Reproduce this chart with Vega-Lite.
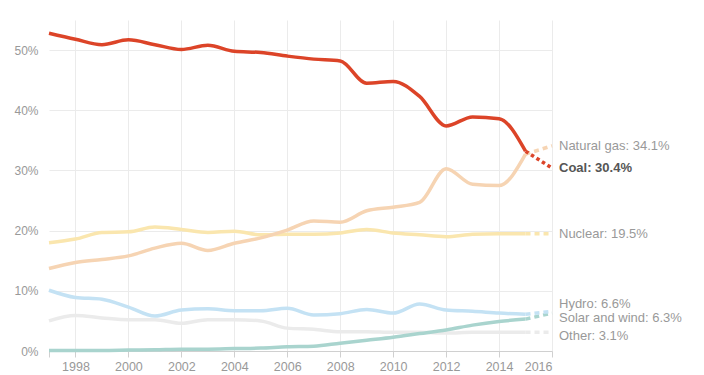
{
  "$schema": "https://vega.github.io/schema/vega-lite/v6.json",
  "width": 503,
  "height": 331,
  "autosize": {"type": "none"},
  "padding": {"left": 49, "top": 20, "right": 152, "bottom": 24},
  "background": "white",
  "config": {
    "view": {"stroke": null},
    "font": "Liberation Sans",
    "axis": {"labelFont": "Liberation Sans", "labelFontSize": 12, "labelColor": "#999", "gridColor": "#ebebeb", "gridWidth": 1}
  },
  "data": {
    "values": [
      {"source": "Other", "year": 1997, "value": 5.0},
      {"source": "Other", "year": 1998, "value": 5.9},
      {"source": "Other", "year": 1999, "value": 5.5},
      {"source": "Other", "year": 2000, "value": 5.2},
      {"source": "Other", "year": 2001, "value": 5.2},
      {"source": "Other", "year": 2002, "value": 4.6},
      {"source": "Other", "year": 2003, "value": 5.2},
      {"source": "Other", "year": 2004, "value": 5.2},
      {"source": "Other", "year": 2005, "value": 5.0},
      {"source": "Other", "year": 2006, "value": 3.8},
      {"source": "Other", "year": 2007, "value": 3.6},
      {"source": "Other", "year": 2008, "value": 3.2},
      {"source": "Other", "year": 2009, "value": 3.2},
      {"source": "Other", "year": 2010, "value": 3.1},
      {"source": "Other", "year": 2011, "value": 3.1},
      {"source": "Other", "year": 2012, "value": 3.0},
      {"source": "Other", "year": 2013, "value": 3.1},
      {"source": "Other", "year": 2014, "value": 3.1},
      {"source": "Other", "year": 2015, "value": 3.1},
      {"source": "Other", "year": 2016, "value": 3.1},
      {"source": "Solar and wind", "year": 1997, "value": 0.1},
      {"source": "Solar and wind", "year": 1998, "value": 0.1},
      {"source": "Solar and wind", "year": 1999, "value": 0.1},
      {"source": "Solar and wind", "year": 2000, "value": 0.15},
      {"source": "Solar and wind", "year": 2001, "value": 0.2},
      {"source": "Solar and wind", "year": 2002, "value": 0.3},
      {"source": "Solar and wind", "year": 2003, "value": 0.3},
      {"source": "Solar and wind", "year": 2004, "value": 0.4},
      {"source": "Solar and wind", "year": 2005, "value": 0.5},
      {"source": "Solar and wind", "year": 2006, "value": 0.7},
      {"source": "Solar and wind", "year": 2007, "value": 0.8},
      {"source": "Solar and wind", "year": 2008, "value": 1.3},
      {"source": "Solar and wind", "year": 2009, "value": 1.8},
      {"source": "Solar and wind", "year": 2010, "value": 2.3},
      {"source": "Solar and wind", "year": 2011, "value": 2.9},
      {"source": "Solar and wind", "year": 2012, "value": 3.5},
      {"source": "Solar and wind", "year": 2013, "value": 4.3},
      {"source": "Solar and wind", "year": 2014, "value": 4.9},
      {"source": "Solar and wind", "year": 2015, "value": 5.3},
      {"source": "Solar and wind", "year": 2016, "value": 6.3},
      {"source": "Hydro", "year": 1997, "value": 10.1},
      {"source": "Hydro", "year": 1998, "value": 8.9},
      {"source": "Hydro", "year": 1999, "value": 8.6},
      {"source": "Hydro", "year": 2000, "value": 7.3},
      {"source": "Hydro", "year": 2001, "value": 5.8},
      {"source": "Hydro", "year": 2002, "value": 6.8},
      {"source": "Hydro", "year": 2003, "value": 7.0},
      {"source": "Hydro", "year": 2004, "value": 6.7},
      {"source": "Hydro", "year": 2005, "value": 6.7},
      {"source": "Hydro", "year": 2006, "value": 7.1},
      {"source": "Hydro", "year": 2007, "value": 6.0},
      {"source": "Hydro", "year": 2008, "value": 6.2},
      {"source": "Hydro", "year": 2009, "value": 6.9},
      {"source": "Hydro", "year": 2010, "value": 6.3},
      {"source": "Hydro", "year": 2011, "value": 7.8},
      {"source": "Hydro", "year": 2012, "value": 6.8},
      {"source": "Hydro", "year": 2013, "value": 6.6},
      {"source": "Hydro", "year": 2014, "value": 6.3},
      {"source": "Hydro", "year": 2015, "value": 6.1},
      {"source": "Hydro", "year": 2016, "value": 6.6},
      {"source": "Nuclear", "year": 1997, "value": 18.0},
      {"source": "Nuclear", "year": 1998, "value": 18.6},
      {"source": "Nuclear", "year": 1999, "value": 19.7},
      {"source": "Nuclear", "year": 2000, "value": 19.8},
      {"source": "Nuclear", "year": 2001, "value": 20.6},
      {"source": "Nuclear", "year": 2002, "value": 20.2},
      {"source": "Nuclear", "year": 2003, "value": 19.7},
      {"source": "Nuclear", "year": 2004, "value": 19.9},
      {"source": "Nuclear", "year": 2005, "value": 19.3},
      {"source": "Nuclear", "year": 2006, "value": 19.4},
      {"source": "Nuclear", "year": 2007, "value": 19.4},
      {"source": "Nuclear", "year": 2008, "value": 19.6},
      {"source": "Nuclear", "year": 2009, "value": 20.2},
      {"source": "Nuclear", "year": 2010, "value": 19.6},
      {"source": "Nuclear", "year": 2011, "value": 19.3},
      {"source": "Nuclear", "year": 2012, "value": 19.0},
      {"source": "Nuclear", "year": 2013, "value": 19.4},
      {"source": "Nuclear", "year": 2014, "value": 19.5},
      {"source": "Nuclear", "year": 2015, "value": 19.5},
      {"source": "Nuclear", "year": 2016, "value": 19.5},
      {"source": "Natural gas", "year": 1997, "value": 13.7},
      {"source": "Natural gas", "year": 1998, "value": 14.7},
      {"source": "Natural gas", "year": 1999, "value": 15.2},
      {"source": "Natural gas", "year": 2000, "value": 15.8},
      {"source": "Natural gas", "year": 2001, "value": 17.1},
      {"source": "Natural gas", "year": 2002, "value": 17.9},
      {"source": "Natural gas", "year": 2003, "value": 16.7},
      {"source": "Natural gas", "year": 2004, "value": 17.9},
      {"source": "Natural gas", "year": 2005, "value": 18.8},
      {"source": "Natural gas", "year": 2006, "value": 20.1},
      {"source": "Natural gas", "year": 2007, "value": 21.6},
      {"source": "Natural gas", "year": 2008, "value": 21.4},
      {"source": "Natural gas", "year": 2009, "value": 23.3},
      {"source": "Natural gas", "year": 2010, "value": 23.9},
      {"source": "Natural gas", "year": 2011, "value": 24.7},
      {"source": "Natural gas", "year": 2012, "value": 30.3},
      {"source": "Natural gas", "year": 2013, "value": 27.7},
      {"source": "Natural gas", "year": 2014, "value": 27.5},
      {"source": "Natural gas", "year": 2015, "value": 32.7},
      {"source": "Natural gas", "year": 2016, "value": 34.1},
      {"source": "Coal", "year": 1997, "value": 52.8},
      {"source": "Coal", "year": 1998, "value": 51.8},
      {"source": "Coal", "year": 1999, "value": 50.9},
      {"source": "Coal", "year": 2000, "value": 51.7},
      {"source": "Coal", "year": 2001, "value": 50.9},
      {"source": "Coal", "year": 2002, "value": 50.1},
      {"source": "Coal", "year": 2003, "value": 50.8},
      {"source": "Coal", "year": 2004, "value": 49.8},
      {"source": "Coal", "year": 2005, "value": 49.6},
      {"source": "Coal", "year": 2006, "value": 49.0},
      {"source": "Coal", "year": 2007, "value": 48.5},
      {"source": "Coal", "year": 2008, "value": 48.2},
      {"source": "Coal", "year": 2009, "value": 44.5},
      {"source": "Coal", "year": 2010, "value": 44.8},
      {"source": "Coal", "year": 2011, "value": 42.3},
      {"source": "Coal", "year": 2012, "value": 37.4},
      {"source": "Coal", "year": 2013, "value": 38.9},
      {"source": "Coal", "year": 2014, "value": 38.6},
      {"source": "Coal", "year": 2015, "value": 33.2},
      {"source": "Coal", "year": 2016, "value": 30.4}
    ]
  },
  "encoding": {
    "x": {
      "field": "year", "type": "quantitative",
      "scale": {"domain": [1997, 2016], "nice": false, "zero": false},
      "axis": {
        "title": null,
        "values": [1997, 1998, 2000, 2002, 2004, 2006, 2008, 2010, 2012, 2014, 2016],
        "labelExpr": "datum.value == 1997 ? '' : datum.label",
        "format": "d",
        "domainColor": "#d0d0d0",
        "tickColor": "#d0d0d0",
        "tickSize": 6,
        "labelPadding": 3,
        "gridOpacity": {"condition": {"test": "datum.value == 1997", "value": 0}, "value": 1},
        "labelFontSize": 12.5
      }
    },
    "y": {
      "field": "value", "type": "quantitative",
      "scale": {"domain": [0, 55], "nice": false},
      "axis": {
        "title": null,
        "values": [0, 10, 20, 30, 40, 50],
        "labelExpr": "datum.value + '%'",
        "domain": false,
        "ticks": false,
        "labelPadding": 11
      }
    },
    "color": {
      "field": "source", "type": "nominal",
      "scale": {
        "domain": ["Other", "Solar and wind", "Hydro", "Nuclear", "Natural gas", "Coal"],
        "range": ["#ebebeb", "#a9d4ce", "#c4e2f4", "#fae6ae", "#f6d4b3", "#dc4428"]
      },
      "legend": null
    }
  },
  "layer": [
    {
      "transform": [{"filter": "datum.year <= 2015"}],
      "mark": {"type": "line", "interpolate": "monotone", "strokeWidth": 3.5}
    },
    {
      "transform": [{"filter": "datum.year >= 2015 && datum.source != 'Coal'"}],
      "mark": {"type": "line", "strokeWidth": 3.5, "strokeDash": [5, 4]}
    },
    {
      "transform": [{"filter": "datum.year >= 2015 && datum.source == 'Coal'"}],
      "mark": {"type": "line", "strokeWidth": 3.5, "strokeDash": [3.5, 3]}
    },
    {
      "transform": [
        {"filter": "datum.year == 2016 && datum.source != 'Coal' && datum.source != 'Hydro' && datum.source != 'Solar and wind' && datum.source != 'Other'"},
        {"calculate": "datum.source + ': ' + format(datum.value, '.1f') + '%'", "as": "label"}
      ],
      "mark": {"type": "text", "align": "left", "baseline": "middle", "dx": 7, "fontSize": 13},
      "encoding": {"text": {"field": "label"}, "color": {"value": "#999"}}
    },
    {
      "transform": [
        {"filter": "datum.year == 2016 && datum.source == 'Hydro'"},
        {"calculate": "datum.source + ': ' + format(datum.value, '.1f') + '%'", "as": "label"}
      ],
      "mark": {"type": "text", "align": "left", "baseline": "middle", "dx": 7, "dy": -7.5, "fontSize": 13},
      "encoding": {"text": {"field": "label"}, "color": {"value": "#999"}}
    },
    {
      "transform": [
        {"filter": "datum.year == 2016 && datum.source == 'Solar and wind'"},
        {"calculate": "datum.source + ': ' + format(datum.value, '.1f') + '%'", "as": "label"}
      ],
      "mark": {"type": "text", "align": "left", "baseline": "middle", "dx": 7, "dy": 4.5, "fontSize": 13},
      "encoding": {"text": {"field": "label"}, "color": {"value": "#999"}}
    },
    {
      "transform": [
        {"filter": "datum.year == 2016 && datum.source == 'Other'"},
        {"calculate": "datum.source + ': ' + format(datum.value, '.1f') + '%'", "as": "label"}
      ],
      "mark": {"type": "text", "align": "left", "baseline": "middle", "dx": 7, "dy": 3.5, "fontSize": 13},
      "encoding": {"text": {"field": "label"}, "color": {"value": "#999"}}
    },
    {
      "transform": [
        {"filter": "datum.year == 2016 && datum.source == 'Coal'"},
        {"calculate": "datum.source + ': ' + format(datum.value, '.1f') + '%'", "as": "label"}
      ],
      "mark": {"type": "text", "align": "left", "baseline": "middle", "dx": 7, "fontSize": 13, "fontWeight": "bold"},
      "encoding": {"text": {"field": "label"}, "color": {"value": "#555"}}
    }
  ]
}
